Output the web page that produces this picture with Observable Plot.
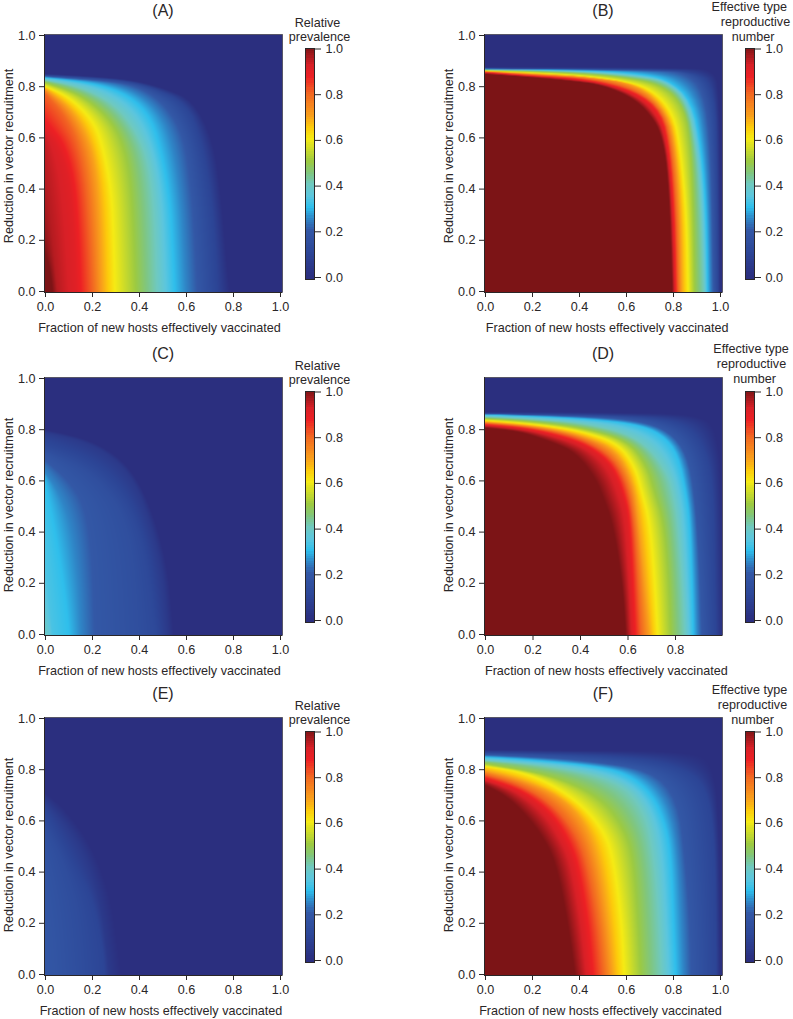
<!DOCTYPE html>
<html><head><meta charset="utf-8">
<script src="https://cdn.jsdelivr.net/npm/d3@7"></script>
<script src="https://cdn.jsdelivr.net/npm/@observablehq/plot@0.6"></script>
<style>
html,body{margin:0;padding:0;background:#fff}
#page{position:relative;width:793px;height:1019px;overflow:hidden}
#page svg{position:absolute;background:transparent;overflow:visible}
</style></head><body><div id="page"></div>
<script>
const colorStops = [0,.1,.2,.25,.3,.35,.4,.45,.5,.6,.65,.7,.8,.87,.92,1];
const colorHexes = ["#2b2f7f","#2c4596","#3358a6","#2f86c7","#2fbfec","#5cc6de","#6fc9c0","#80c67f","#9cca42","#f6eb14","#fdcb0b","#f9a01b","#f26522","#ed2024","#d82027","#7c1416"];
const xTicks = [0,.2,.4,.6,.8,1];
const yTicks = [0,.2,.4,.6,.8,1];
const barTicks = [0,.2,.4,.6,.8,1];
const barLevels = d3.range(-1,100).map(i=>i/100);

// Iso-value lines: [value, [[fraction vaccinated, reduction], ...]]
const linesA = [
 [0,[[0,.85],[.1,.845],[.2,.84],[.38,.825],[.52,.79],[.63,.745],[.716,.59],[.75,.355],[.773,.095],[.785,0]]],
 [.1,[[0,.845],[.3,.83],[.45,.80],[.6,.735],[.66,.6],[.70,.4],[.72,.2],[.73,0]]],
 [.2,[[0,.84],[.3,.82],[.42,.79],[.52,.72],[.59,.6],[.62,.4],[.635,.2],[.645,0]]],
 [.3,[[0,.835],[.2,.815],[.35,.77],[.45,.68],[.5,.52],[.53,.35],[.54,.2],[.55,0]]],
 [.4,[[0,.825],[.15,.80],[.3,.73],[.39,.62],[.44,.5],[.465,.3],[.475,0]]],
 [.5,[[0,.815],[.15,.77],[.27,.68],[.33,.58],[.36,.45],[.375,.25],[.385,0]]],
 [.6,[[0,.80],[.1,.76],[.2,.67],[.24,.58],[.28,.4],[.29,.2],[.295,0]]],
 [.7,[[0,.79],[.1,.72],[.17,.62],[.21,.5],[.23,.3],[.24,0]]],
 [.8,[[0,.77],[.07,.7],[.13,.6],[.17,.45],[.19,.2],[.20,0]]],
 [.9,[[0,.63],[.05,.58],[.1,.45],[.12,.25],[.13,0]]],
 [.95,[[0,.45],[.02,.3],[.04,.1],[.05,0]]],
 [1,[[0,.15],[.02,.08],[.03,0]]]
];
const linesB = [
 [0,[[0,.876],[.5,.875],[.9,.874],[.97,.86],[.998,.8],[1,0]]],
 [.1,[[0,.872],[.5,.87],[.9,.865],[.975,.785],[.985,.5],[.99,0]]],
 [.2,[[0,.87],[.4,.867],[.7,.862],[.845,.856],[.93,.785],[.96,.55],[.97,0]]],
 [.3,[[0,.868],[.4,.864],[.635,.853],[.775,.83],[.88,.746],[.92,.55],[.94,.3],[.945,0]]],
 [.4,[[0,.866],[.4,.86],[.65,.84],[.77,.82],[.86,.74],[.9,.55],[.92,.3],[.93,0]]],
 [.5,[[0,.864],[.35,.855],[.56,.84],[.75,.81],[.847,.72],[.875,.55],[.885,.3],[.89,0]]],
 [.6,[[0,.862],[.35,.847],[.56,.827],[.705,.793],[.80,.695],[.83,.55],[.855,.3],[.862,0]]],
 [.7,[[0,.86],[.25,.848],[.42,.84],[.65,.81],[.775,.70],[.81,.55],[.83,.3],[.835,0]]],
 [.85,[[0,.857],[.2,.842],[.42,.832],[.635,.785],[.75,.70],[.785,.55],[.805,.3],[.812,0]]],
 [1,[[0,.85],[.14,.841],[.35,.824],[.49,.809],[.635,.753],[.72,.668],[.75,.6],[.77,.5],[.785,.3],[.795,0]]]
];
const linesC = [
 [0,[[0,.80],[.16,.77],[.3,.706],[.40,.60],[.475,.43],[.525,.236],[.546,0]]],
 [.05,[[0,.79],[.15,.76],[.28,.70],[.38,.6],[.45,.43],[.5,.24],[.52,0]]],
 [.12,[[0,.74],[.15,.69],[.28,.6],[.37,.48],[.43,.3],[.47,0]]],
 [.15,[[0,.72],[.15,.66],[.25,.58],[.33,.48],[.38,.3],[.40,0]]],
 [.2,[[0,.68],[.1,.6],[.17,.5],[.2,.3],[.21,0]]],
 [.25,[[0,.63],[.06,.55],[.11,.42],[.14,.2],[.15,0]]],
 [.3,[[0,.58],[.03,.45],[.06,.3],[.09,.1],[.1,0]]],
 [.33,[[0,.3],[.01,.2],[.03,0]]],
 [.38,[[0,.05],[.01,0]]]
];
const linesD = [
 [0,[[0,.868],[.6,.866],[.9,.86],[.98,.8],[.995,.5],[.998,0]]],
 [.1,[[0,.863],[.42,.858],[.7,.85],[.85,.82],[.93,.72],[.96,.55],[.965,.2],[.97,0]]],
 [.2,[[0,.861],[.42,.852],[.65,.835],[.78,.79],[.85,.7],[.88,.55],[.9,.3],[.91,0]]],
 [.3,[[0,.859],[.14,.855],[.42,.843],[.63,.823],[.74,.784],[.81,.706],[.845,.55],[.86,.445],[.87,.2],[.875,0]]],
 [.4,[[0,.85],[.14,.845],[.28,.835],[.42,.825],[.6,.785],[.7,.72],[.77,.62],[.79,.55],[.81,.445],[.83,.2],[.84,0]]],
 [.5,[[0,.843],[.14,.836],[.28,.823],[.42,.805],[.6,.757],[.68,.66],[.715,.55],[.75,.445],[.77,.25],[.78,0]]],
 [.6,[[0,.836],[.14,.827],[.28,.8125],[.42,.79],[.56,.745],[.63,.654],[.66,.55],[.69,.445],[.71,.25],[.725,0]]],
 [.7,[[0,.83],[.14,.82],[.28,.804],[.42,.773],[.55,.72],[.62,.6],[.645,.445],[.665,.25],[.69,0]]],
 [.8,[[0,.825],[.14,.815],[.28,.795],[.42,.76],[.54,.69],[.6,.58],[.625,.445],[.64,.25],[.655,0]]],
 [.9,[[0,.817],[.14,.807],[.28,.78],[.42,.74],[.53,.66],[.585,.52],[.60,.445],[.61,.25],[.62,0]]],
 [1,[[0,.807],[.14,.794],[.28,.751],[.375,.712],[.46,.615],[.50,.523],[.53,.445],[.56,.3],[.58,.15],[.59,0]]]
];
const linesE = [
 [0,[[0,.71],[.09,.64],[.2,.5],[.28,.3],[.31,.1],[.325,0]]],
 [.05,[[0,.68],[.08,.6],[.17,.47],[.23,.3],[.26,.1],[.27,0]]],
 [.1,[[0,.64],[.06,.55],[.13,.42],[.2,.3],[.245,.1],[.25,0]]],
 [.14,[[0,.58],[.06,.48],[.1,.38],[.14,.25],[.16,0]]],
 [.18,[[0,.4],[.02,.3],[.04,.15],[.05,0]]],
 [.19,[[0,.1],[.01,0]]]
];
const linesF = [
 [0,[[0,.875],[.6,.872],[.9,.868],[.97,.82],[.995,.6],[1,0]]],
 [.1,[[0,.866],[.42,.86],[.71,.84],[.88,.79],[.95,.70],[.975,.5],[.98,.2],[.981,0]]],
 [.2,[[0,.857],[.2,.85],[.42,.836],[.71,.797],[.82,.68],[.85,.445],[.87,.2],[.875,0]]],
 [.3,[[0,.849],[.14,.842],[.42,.82],[.595,.79],[.71,.706],[.77,.575],[.79,.445],[.8,.2],[.81,0]]],
 [.4,[[0,.835],[.28,.816],[.567,.757],[.68,.64],[.72,.445],[.74,.2],[.75,0]]],
 [.5,[[0,.823],[.28,.78],[.495,.69],[.595,.5625],[.63,.445],[.65,.2],[.66,0]]],
 [.6,[[0,.8125],[.14,.794],[.28,.745],[.42,.654],[.51,.55],[.545,.445],[.58,.2],[.59,0]]],
 [.7,[[0,.795],[.14,.765],[.31,.70],[.42,.60],[.48,.445],[.52,.2],[.54,0]]],
 [.8,[[0,.78],[.14,.745],[.28,.67],[.38,.56],[.43,.445],[.48,.2],[.5,0]]],
 [.9,[[0,.76],[.14,.72],[.27,.63],[.35,.5],[.38,.42],[.42,.2],[.44,0]]],
 [1,[[0,.738],[.07,.706],[.14,.654],[.226,.5625],[.297,.445],[.35,.2],[.38,0]]]
];

const xLabel = "Fraction of new hosts effectively vaccinated";
const yLabel = "Reduction in vector recruitment";
const prevalenceTitle = ["Relative","prevalence"];
const numberTitle = ["Effective type","reproductive","number"];

const panels = [
 {name:"(A)",lines:linesA,left:0,top:0,xc:159,yc:155.5,title:prevalenceTitle,tx:[317,319],ty:[26,40]},
 {name:"(B)",lines:linesB,left:440,top:0,xc:166.7,yc:155.5,title:numberTitle,tx:[308.8,315,312.5],ty:[10,25,40]},
 {name:"(C)",lines:linesC,left:0,top:343,xc:159,yc:161.5,title:prevalenceTitle,tx:[317,319],ty:[26,40]},
 {name:"(D)",lines:linesD,left:440,top:343,xc:165.8,yc:161.5,title:numberTitle,tx:[310.5,311,314],ty:[9,24,39],cut:true},
 {name:"(E)",lines:linesE,left:0,top:683,xc:160.5,yc:161.5,title:prevalenceTitle,tx:[317,319],ty:[26,40]},
 {name:"(F)",lines:linesF,left:440,top:683,xc:160,yc:161.5,title:numberTitle,tx:[309,312,312],ty:[10,25,40]}
];

// Plot.raster interpolate option: fills each pixel between the nested iso-value lines.
function smooth(line){
  let a = line;
  for (let n=0;n<2;n++){
    const b=[a[0]];
    for (let i=0;i<a.length-1;i++){
      const [x0,y0]=a[i],[x1,y1]=a[i+1];
      if (i>0) b.push([.75*x0+.25*x1,.75*y0+.25*y1]);
      if (i<a.length-2) b.push([.25*x0+.75*x1,.25*y0+.75*y1]);
    }
    b.push(a[a.length-1]);
    a=b;
  }
  return a;
}
function crossing(line,y){
  if (y<=line[0][1]){
    const [x0,y0]=line[0];
    let j=1; while(j<line.length-1 && line[j][1]-y0<.5) j++;
    const [x1,y1]=line[j];
    return y1>y0 ? x0+(y-y0)*(x1-x0)/(y1-y0) : (y<y0?-1e6:x0);
  }
  for (let i=1;i<line.length;i++){
    if (y<=line[i][1]){
      const [x0,y0]=line[i-1],[x1,y1]=line[i];
      return y1>y0 ? x0+(y-y0)*(x1-x0)/(y1-y0) : Math.max(x0,x1);
    }
  }
  return line[line.length-1][0];
}
function fillBetweenLines(index,w,h,X,Y,V){
  const groups=new Map();
  for (const i of index){ if(!groups.has(V[i])) groups.set(V[i],[]); groups.get(V[i]).push([X[i],Y[i]]); }
  const levels=[...groups.keys()].sort((a,b)=>a-b);
  const lines=levels.map(v=>smooth(groups.get(v)));
  const minX=d3.min(X);
  const out=new Float64Array(w*h);
  const n=levels.length;
  for (let r=0;r<h;r++){
    const cross=lines.map(l=>crossing(l,r+.5));
    for (let c=0;c<w;c++){
      const x=Math.max(c+.5,minX);
      let val=0;
      for (let k=n-1;k>=0;k--){
        if (x<=cross[k]){
          if (k===n-1) val=levels[k];
          else { const d=cross[k]-cross[k+1]; const t=d>0?Math.min(1,(cross[k]-x)/d):1; val=levels[k]+(levels[k+1]-levels[k])*t; }
          break;
        }
      }
      out[r*w+c]=val;
    }
  }
  return out;
}

const ink = "#2a2627";
const font = "'Liberation Sans', Arial, sans-serif";
const fs = 12.6;
const color = {type:"linear",domain:colorStops,range:colorHexes,interpolate:"rgb",clamp:true};
const page = document.getElementById("page");

for (const p of panels) {
  const pts = p.lines.flatMap(([v,l]) => l.map(([x,y]) => ({x,y,v})));
  const W = 300, H = 340;
  const pxX = p.cut ? 237.5 : 235;
  const xlo = -1/pxX, xhi = 237/pxX, ylo = -1/256, yhi = 1+1/256;
  const chart = Plot.plot({
    width:W,height:H,marginLeft:44,marginRight:W-282,marginTop:34,marginBottom:H-292,
    style:{fontFamily:font,fontSize:fs+"px",color:ink,background:"transparent"},
    x:{domain:[xlo,xhi]},y:{domain:[ylo,yhi]},color,
    marks:[
      Plot.raster(pts,{x:"x",y:"y",fill:"v",interpolate:fillBetweenLines,x1:xlo,x2:xhi,y1:yhi,y2:ylo,pixelSize:1}),
      Plot.frame({stroke:ink,strokeWidth:.7,strokeOpacity:.8}),
      Plot.axisX({ticks:p.cut?xTicks.slice(0,5):xTicks,tickFormat:d3.format(".1f"),tickSize:5,tickPadding:5,label:null,stroke:ink,fill:ink,fontSize:fs}),
      Plot.axisY({ticks:p.cut?yTicks.slice(0,5):yTicks,tickFormat:d3.format(".1f"),tickSize:5,tickPadding:4,label:null,stroke:ink,fill:ink,fontSize:fs}),
      Plot.ruleY([ylo],{stroke:ink,strokeWidth:1}),
      Plot.ruleX([xlo],{stroke:ink,strokeWidth:1}),
      Plot.text([p.name],{frameAnchor:"top-left",dx:162.5-44,dy:-30,text:d=>d,fontSize:16,fill:ink,textAnchor:"middle",lineAnchor:"top"}),
      Plot.text([xLabel],{frameAnchor:"bottom-left",dx:p.xc-44,dy:39,text:d=>d,fontSize:fs,fill:ink,textAnchor:"middle",lineAnchor:"bottom"}),
      Plot.text([yLabel],{frameAnchor:"top-left",dx:12-44,dy:p.yc-34,text:d=>d,rotate:-90,fontSize:fs,fill:ink,textAnchor:"middle",lineAnchor:"bottom"})
    ]
  });
  chart.style.left = p.left+"px"; chart.style.top = p.top+"px";
  page.appendChild(chart);

  const barW = 353;
  const bar = Plot.plot({
    width:barW,height:H,marginLeft:305,marginRight:barW-314,marginTop:48,marginBottom:H-279,
    style:{fontFamily:font,fontSize:fs+"px",color:ink,background:"transparent"},
    x:{domain:[0,1],axis:null},y:{domain:[-2/228.5,1+.5/228.5]},color,
    marks:[
      Plot.rect(barLevels,{x1:0,x2:1,y1:d=>d,y2:d=>d+.01,fill:d=>d,shapeRendering:"crispEdges",clip:true}),
      Plot.frame({stroke:ink,strokeWidth:1}),
      Plot.axisY({anchor:"right",ticks:barTicks,tickFormat:d3.format(".1f"),tickSize:6,tickPadding:5,label:null,stroke:ink,fill:ink,fontSize:fs}),
      ...p.title.map((line,i)=>Plot.text([line],{frameAnchor:"top-left",dx:p.tx[i]-305,dy:p.ty[i]-48,text:d=>d,fontSize:fs,fill:ink,textAnchor:"middle",lineAnchor:"bottom"}))
    ]
  });
  bar.style.left = p.left+"px"; bar.style.top = p.top+"px";
  page.appendChild(bar);
}
</script></body></html>
